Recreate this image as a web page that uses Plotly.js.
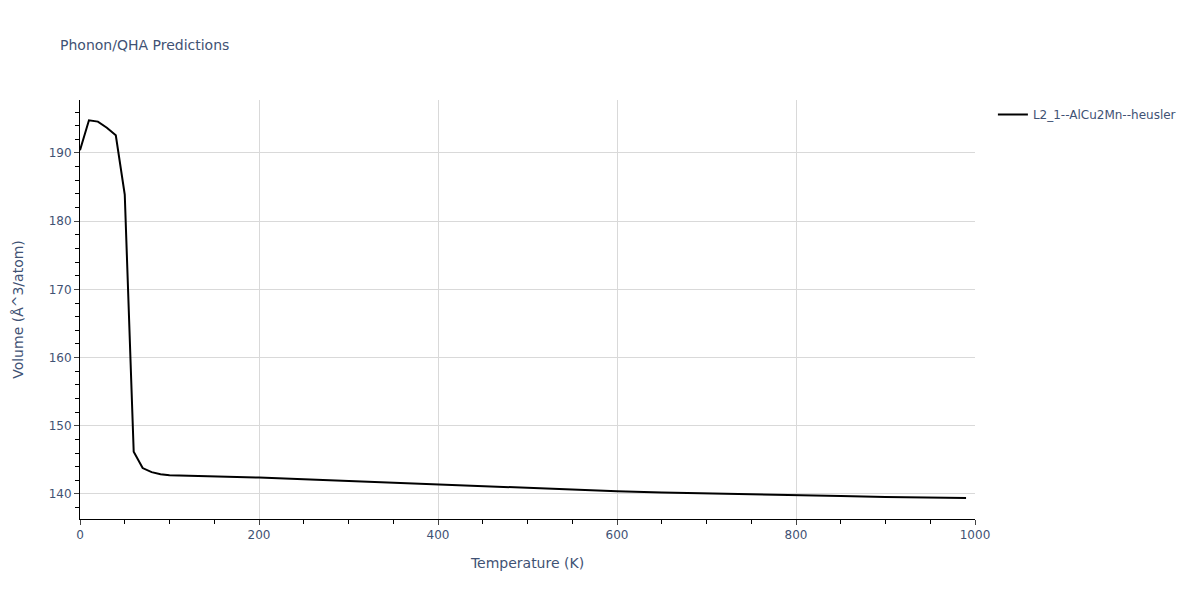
<!DOCTYPE html>
<html>
<head>
<meta charset="utf-8">
<script src="https://cdn.plot.ly/plotly-3.0.1.min.js"></script>
<style>html,body{margin:0;padding:0;background:#fff;}#chart{width:1200px;height:600px;}</style>
</head>
<body>
<div id="chart"></div>
<script>
const seriesName = "L2_1--AlCu2Mn--heusler";
const temperature = [0, 10, 20, 30, 40, 50, 60, 70, 80, 90, 100, 150, 200, 250, 300, 350, 400, 450, 500, 550, 600, 650, 700, 750, 800, 850, 900, 950, 990];
const volume = [190.4, 194.8, 194.6, 193.7, 192.6, 183.9, 146.2, 143.8, 143.2, 142.9, 142.75, 142.6, 142.4, 142.15, 141.9, 141.6, 141.3, 141.05, 140.8, 140.6, 140.4, 140.2, 140.1, 139.95, 139.8, 139.7, 139.55, 139.45, 139.4];

const fontFam = 'Verdana, "DejaVu Sans", sans-serif';
const txtColor = '#3f5274';
const trace = {
  x: temperature, y: volume, type: 'scatter', mode: 'lines', name: seriesName,
  line: {color: '#000000', width: 2}
};
const axisCommon = {
  showline: true, linecolor: '#000', linewidth: 1, ticks: 'outside', tickcolor: '#444', ticklen: 5,
  gridcolor: '#d9d9d9', zeroline: false, tickfont: {family: fontFam, size: 12, color: txtColor}
};
const layout = {
  width: 1200, height: 600,
  paper_bgcolor: '#fff', plot_bgcolor: '#fff',
  font: {family: fontFam, color: txtColor, size: 12},
  title: {text: 'Phonon/QHA Predictions', x: 0.05, xanchor: 'left', y: 0.933, font: {family: fontFam, size: 14, color: txtColor}},
  margin: {l: 80, r: 225, t: 100, b: 81},
  showlegend: true,
  legend: {x: 1.02, y: 1, xanchor: 'left', yanchor: 'top', font: {family: fontFam, size: 12, color: txtColor}},
  xaxis: Object.assign({}, axisCommon, {
    title: {text: 'Temperature (K)', standoff: 16, font: {family: fontFam, size: 14, color: txtColor}},
    range: [0, 1000], dtick: 200, tick0: 0,
    minor: {dtick: 50, ticks: 'outside', ticklen: 4, tickcolor: '#000', showgrid: false}
  }),
  yaxis: Object.assign({}, axisCommon, {
    title: {text: 'Volume (Å^3/atom)', standoff: 21, font: {family: fontFam, size: 14, color: txtColor}},
    range: [136.33, 197.77], dtick: 10, tick0: 0,
    minor: {dtick: 2, ticks: 'outside', ticklen: 4, tickcolor: '#000', showgrid: false}
  })
};
Plotly.newPlot('chart', [trace], layout, {displayModeBar: false});
</script>
</body>
</html>
